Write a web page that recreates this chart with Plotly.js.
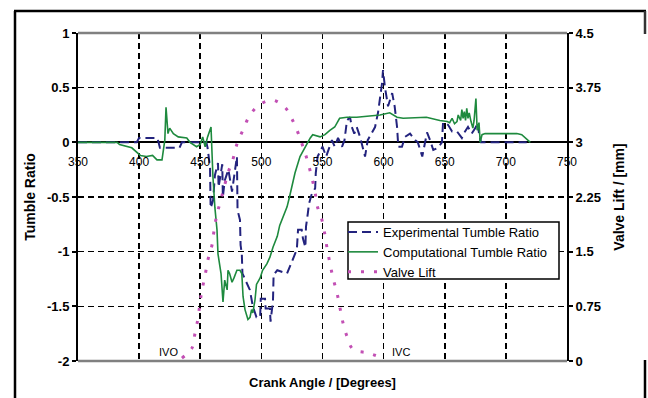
<!DOCTYPE html>
<html>
<head>
<meta charset="utf-8">
<script src="https://cdn.plot.ly/plotly-3.0.1.min.js"></script>
<style>html,body{margin:0;padding:0;background:#fff;}#chart{width:648px;height:398px;}</style>
</head>
<body>
<div id="chart"></div>
<script>
// ---------- data ----------
const expAngle = [350,398,400,415,417,433,435,448,455,456,458,458.5,460.5,462,464.5,465,468,468.5,470,473,476,480,480.5,482.5,483,484,484.5,490.6,493,496,499,499.5,503,503.5,507,507.5,509.5,510,513,521,526,529,529.5,530,533,534,536,536.5,538,539,541,544,544.5,546,550,553,557.7,560,562.7,566,568,570,572.5,574,576,578,580.7,583,584.8,587,590,593,595.4,597,598.7,599.5,601,603.6,607,609,611,612,615,617.5,621.6,625.7,628,631.6,635.5,638,640.6,644.5,647.7,648.6,650,652.7,656,660,664,666.6,669,672,675,677,678,679.6,717];
const expTumble = [0,0,0.04,0.04,-0.05,-0.05,0,0,0,-0.05,-0.23,-0.6,-0.53,-0.3,-0.19,-0.41,-0.2,-0.5,-0.35,-0.25,-0.45,-0.13,-0.62,-0.71,-0.94,-1.02,-1.2,-1.35,-1.5,-1.6,-1.6,-1.43,-1.43,-1.52,-1.52,-1.64,-1.45,-1.21,-1.17,-1.2,-1.06,-0.98,-0.89,-0.8,-0.8,-0.88,-0.96,-0.77,-0.65,-0.56,-0.48,-0.42,-0.28,-0.13,-0.04,-0.13,0.02,-0.04,0.04,-0.04,0.02,0.2,0.23,0.14,0.08,0.14,0.05,-0.04,-0.13,0.02,0.08,0.14,0.27,0.39,0.54,0.66,0.51,0.33,0.45,0.33,0.14,-0.04,-0.04,0.05,0.08,0.02,0,-0.13,0.09,0.02,-0.07,-0.05,0,0.18,0.18,0.16,0.1,0.1,0.04,0.1,0.14,0.08,0.13,0.18,0.08,0,0];

const compAngle = [350,382,384,394,401,406,411,414.6,418.7,419.5,421,422,423.6,425,428,432,439,441.6,447,450,452,454,456,458.8,459.6,460.4,462,463.7,464.5,467,468.6,470,472,472.7,474,476,477.6,480,482.5,484,485,486.6,489,490.7,492,493,494.8,496,499,501,504.6,507,509.5,513,515,518,521,523,527.5,531.6,535.7,540,542,548,552,556,560,564,570,578,597,605,611,616,635,638,646,652,654,656,658,660,661,663,664,665,666,667,668,669,670,671.5,673,674,675.5,676.5,678,679,680.5,683,695,709,713,717,720];
const compTumble = [0,0,-0.02,-0.05,-0.12,-0.13,-0.12,-0.16,-0.16,-0.1,0.02,0.32,0.08,0.13,0.08,0.05,0.04,0,-0.04,-0.02,0.05,-0.04,0.05,0.14,-0.16,-0.32,-0.6,-0.8,-1.02,-1.2,-1.46,-1.26,-1.35,-1.17,-1.2,-1.28,-1.24,-1.17,-1.17,-1.2,-1.41,-1.53,-1.62,-1.6,-1.53,-1.56,-1.44,-1.3,-1.24,-1.17,-1.11,-1.05,-0.96,-0.86,-0.76,-0.68,-0.59,-0.5,-0.28,-0.13,-0.04,0.04,0.07,0.05,0.07,0.11,0.14,0.22,0.23,0.23,0.25,0.27,0.23,0.22,0.23,0.22,0.2,0.19,0.18,0.22,0.17,0.19,0.25,0.2,0.3,0.22,0.28,0.2,0.31,0.22,0.27,0.19,0.13,0.2,0.4,0.11,0.18,0,0.07,0.08,0.08,0.08,0.07,0.03,0];

const valveAngle = [435,443.3,445.7,448.2,449.8,451.4,453.9,456.3,459.6,461.2,463.5,467.5,472.7,476.8,480.1,485,489.9,497.2,508.7,519.3,525,530,534,538,543.9,545.5,549.6,552,553.7,556.1,558.6,561.9,564.3,566.8,570,575,587.2,599.5];
const valveLift = [0.04,0.18,0.38,0.59,0.8,0.97,1.17,1.39,1.59,1.78,2.0,2.25,2.58,2.77,2.98,3.17,3.35,3.5,3.58,3.48,3.32,3.13,2.94,2.73,2.32,2.14,1.93,1.73,1.55,1.34,1.14,0.93,0.73,0.52,0.34,0.16,0.11,0.04];

const xTickVals = [350,400,450,500,550,600,650,700,750];
const xTickText = ['350','400','450','500','550','600','650','700','750'];
const yTickVals = [-2,-1.5,-1,-0.5,0,0.5,1];
const yTickText = ['-2','-1.5','-1','-0.5','0','0.5','1'];
const y2TickVals = [0,0.75,1.5,2.25,3,3.75,4.5];
const y2TickText = ['0','0.75','1.5','2.25','3','3.75','4.5'];

const seriesNames = ['Experimental Tumble Ratio','Computational Tumble Ratio','Valve Lift'];
const markerLabels = ['IVO','IVC'];
const markerAngles = [424,614];
const markerLevel = -1.92;

// ---------- chart ----------
const FONT = 'Liberation Sans, Arial, Helvetica, sans-serif';
const traces = [
  {x: expAngle, y: expTumble, name: seriesNames[0], mode: 'lines', yaxis: 'y',
   line: {color: '#23237e', width: 2, dash: '9px,5px'}},
  {x: compAngle, y: compTumble, name: seriesNames[1], mode: 'lines', yaxis: 'y',
   line: {color: '#1e8a3e', width: 1.6}},
  {x: valveAngle, y: valveLift, name: seriesNames[2], mode: 'lines', yaxis: 'y2',
   line: {color: '#c24fb4', width: 3, dash: '3px,10px', shape: 'spline'}}
];

// px -> paper helpers (plot area: x 78..567, y 33..361)
const px = v => (v - 78) / 489;
const py = v => (361 - v) / 328;

const layout = {
  width: 648, height: 398,
  margin: {l: 78, r: 81, t: 33, b: 37, pad: 0},
  paper_bgcolor: '#fff', plot_bgcolor: '#fff',
  font: {family: FONT, color: '#000', size: 12},
  showlegend: true,
  legend: {x: px(343), y: py(217), xanchor: 'left', yanchor: 'top',
           bgcolor: 'rgba(0,0,0,0)', borderwidth: 0,
           font: {family: FONT, size: 13, color: '#000'}, tracegroupgap: 0},
  xaxis: {
    range: [350, 750], tickvals: xTickVals, ticktext: xTickText,
    anchor: 'free', position: 2/3,
    showline: false, zeroline: false,
    ticks: 'outside', ticklen: 8, tickcolor: 'rgba(0,0,0,0)',
    tickfont: {family: FONT, size: 12, color: '#000'},
    showgrid: true, gridcolor: '#000', gridwidth: 1.6, griddash: '6px,4px',
    title: {text: 'Crank Angle / [Degrees]', standoff: 210,
            font: {family: FONT, size: 13, color: '#000', weight: 'bold'}}
  },
  yaxis: {
    range: [-2, 1], tickvals: yTickVals, ticktext: yTickText,
    showline: true, linecolor: '#000', linewidth: 2,
    ticks: 'outside', ticklen: 4, tickwidth: 2, tickcolor: '#000',
    tickfont: {family: FONT, size: 13, color: '#000', weight: 'bold'},
    zeroline: true, zerolinecolor: '#000', zerolinewidth: 2,
    showgrid: true, gridcolor: '#000', gridwidth: 1.6, griddash: '6px,4px',
    title: {text: 'Tumble Ratio', standoff: 8,
            font: {family: FONT, size: 14, color: '#000', weight: 'bold'}}
  },
  yaxis2: {
    range: [0, 4.5], tickvals: y2TickVals, ticktext: y2TickText,
    overlaying: 'y', side: 'right', anchor: 'x',
    showline: true, linecolor: '#000', linewidth: 2,
    ticks: 'outside', ticklen: 4, tickwidth: 2, tickcolor: '#000',
    tickfont: {family: FONT, size: 13, color: '#000', weight: 'bold'},
    showgrid: false, zeroline: false,
    title: {text: 'Valve Lift / [mm]', standoff: 14,
            font: {family: FONT, size: 14, color: '#000', weight: 'bold'}}
  },
  annotations: markerLabels.map((t, i) => ({
    text: t, x: markerAngles[i], y: markerLevel, xref: 'x', yref: 'y',
    showarrow: false, font: {family: FONT, size: 11, color: '#000'}
  })),
  shapes: [
    // gray top and bottom plot borders
    {type: 'line', xref: 'paper', yref: 'paper', x0: 0, x1: 1, y0: 1, y1: 1,
     line: {color: '#808080', width: 2.5}, layer: 'above'},
    {type: 'line', xref: 'paper', yref: 'paper', x0: 0, x1: 1, y0: 0, y1: 0,
     line: {color: '#808080', width: 2.5}, layer: 'above'},
    // legend box
    {type: 'rect', xref: 'paper', yref: 'paper', x0: px(348), x1: px(559), y0: py(222), y1: py(279),
     fillcolor: '#fff', line: {color: '#000', width: 1.5}, layer: 'above'},
    // outer frame
    {type: 'line', xref: 'paper', yref: 'paper', x0: px(15), x1: px(15), y0: py(11), y1: py(405),
     line: {color: '#000', width: 2.5}},
    {type: 'line', xref: 'paper', yref: 'paper', x0: px(14), x1: px(646), y0: py(11), y1: py(11),
     line: {color: '#000', width: 2.5}},
    {type: 'line', xref: 'paper', yref: 'paper', x0: px(645), x1: px(645), y0: py(11), y1: py(34),
     line: {color: '#333', width: 2.5}},
    {type: 'line', xref: 'paper', yref: 'paper', x0: px(645), x1: px(645), y0: py(360), y1: py(405),
     line: {color: '#000', width: 2.5}}
  ]
};

Plotly.newPlot('chart', traces, layout, {staticPlot: true, displayModeBar: false});
</script>
</body>
</html>
